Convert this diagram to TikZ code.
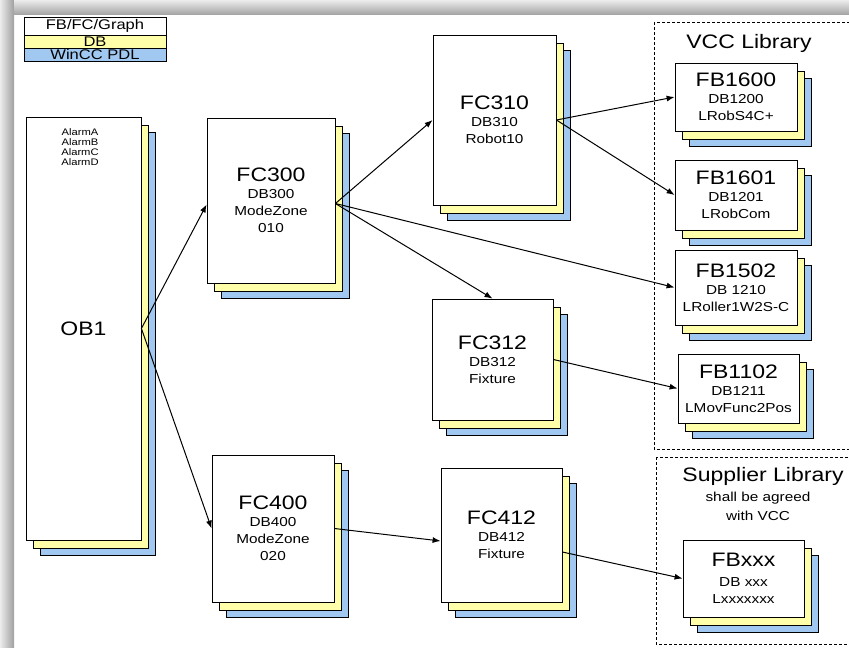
\documentclass[tikz,border=0pt]{standalone}
\usepackage{fontspec}
\setmainfont{Liberation Sans}[FakeStretch=1.18]
\usetikzlibrary{arrows.meta}

\definecolor{dbyellow}{RGB}{255,255,170}
\definecolor{pdlblue}{RGB}{160,200,240}

\newcommand{\titlef}{\fontsize{19.5}{22}\selectfont}
\newcommand{\subf}{\fontsize{13}{17}\selectfont}

\tikzset{
  blockbox/.style={draw,fill=white,line width=0.8pt,inner sep=0pt,align=center,font=\subf},
  legbox/.style={draw,line width=0.6pt,inner sep=0pt,minimum width=142pt,font=\fontsize{14}{15}\selectfont},
  call/.style={-{Latex[length=8pt,width=6pt]},line width=1pt},
  libframe/.style={draw,dash pattern=on 3pt off 2pt,line width=0.6pt},
}

% white block with the DB and PDL sheets behind it: name, left, top, right, bottom, text
\newcommand{\stackblock}[6]{%
  \filldraw[fill=pdlblue,line width=0.8pt] (#2+14,#3+15) rectangle (#4+14,#5+15);
  \filldraw[fill=dbyellow,line width=0.8pt] (#2+7,#3+8) rectangle (#4+7,#5+8);
  \node[blockbox,minimum width={(#4-#2)*1pt},minimum height={(#5-#3)*1pt}]
    (#1) at ({(#2+#4)/2},{(#3+#5)/2}) {#6};
}

\begin{document}
\begin{tikzpicture}[x=1pt,y=-1pt]
\useasboundingbox (0,0) rectangle (849,648);
\shade[left color=gray!15,right color=gray!75] (0,0) rectangle (14,648);
\shade[top color=gray!15,bottom color=gray!70] (14,0) rectangle (849,14);

% legend
\node[legbox,fill=white,minimum height=18pt] (legfb) at (95,26) {FB/FC/Graph};
\node[legbox,fill=dbyellow,minimum height=13pt] (legdb) at (95,41.5) {DB};
\node[legbox,fill=pdlblue,minimum height=13pt] (legpdl) at (95,54.5) {WinCC PDL};

% library frames
\draw[libframe] (654,22) rectangle (880,449);
\node (vcclib) at (749,43) {\titlef VCC Library};
\draw[libframe] (656,457) rectangle (880,644);
\node (suplib) at (763,476) {\titlef Supplier Library};
\node[align=center,font=\fontsize{13}{19}\selectfont] (supnote) at (758,506) {shall be agreed\\with VCC};

% call tree
\stackblock{ob1}{26}{117}{141}{540}{{\titlef OB1}}
\node[align=center,font=\fontsize{9.5}{10}\selectfont] (alarms) at (80,147) {AlarmA\\AlarmB\\AlarmC\\AlarmD};
\stackblock{fc300}{207}{118}{335}{283}{{\titlef FC300}\\DB300\\ModeZone\\010}
\stackblock{fc400}{212}{455}{334}{602}{{\titlef FC400}\\DB400\\ModeZone\\020}
\stackblock{fc310}{433}{35}{556}{205}{{\titlef FC310}\\DB310\\Robot10}
\stackblock{fc312}{432}{299}{553}{420}{{\titlef FC312}\\DB312\\Fixture}
\stackblock{fc412}{441}{468}{562}{602}{{\titlef FC412}\\DB412\\Fixture}
\stackblock{fb1600}{675}{63}{797}{131}{{\titlef FB1600}\\DB1200\\LRobS4C+}
\stackblock{fb1601}{675}{160}{797}{230}{{\titlef FB1601}\\DB1201\\LRobCom}
\stackblock{fb1502}{675}{250}{797}{325}{{\titlef FB1502}\\DB 1210\\LRoller1W2S-C}
\stackblock{fb1102}{678}{354}{799}{423}{{\titlef FB1102}\\DB1211\\LMovFunc2Pos}
\stackblock{fbxxx}{683}{540}{804}{617}{{\titlef FBxxx}\\[3pt]DB xxx\\Lxxxxxxx}

\draw[call] (ob1.east) -- ([yshift=-4pt]fc300.west);
\draw[call] (ob1.east) -- (fc400.west);
\draw[call] ([yshift=-3pt]fc300.east) -- (fc310.west);
\draw[call] ([yshift=-3pt]fc300.east) -- (fc312.north);
\draw[call] ([yshift=-3pt]fc300.east) -- (fb1502.west);
\draw[call] (fc310.east) -- (fb1600.west);
\draw[call] (fc310.east) -- (fb1601.west);
\draw[call] (fc312.east) -- (fb1102.west);
\draw[call] (fc400.east) -- ([yshift=-6pt]fc412.west);
\draw[call] ([yshift=-17pt]fc412.east) -- (fbxxx.west);
\end{tikzpicture}
\end{document}
